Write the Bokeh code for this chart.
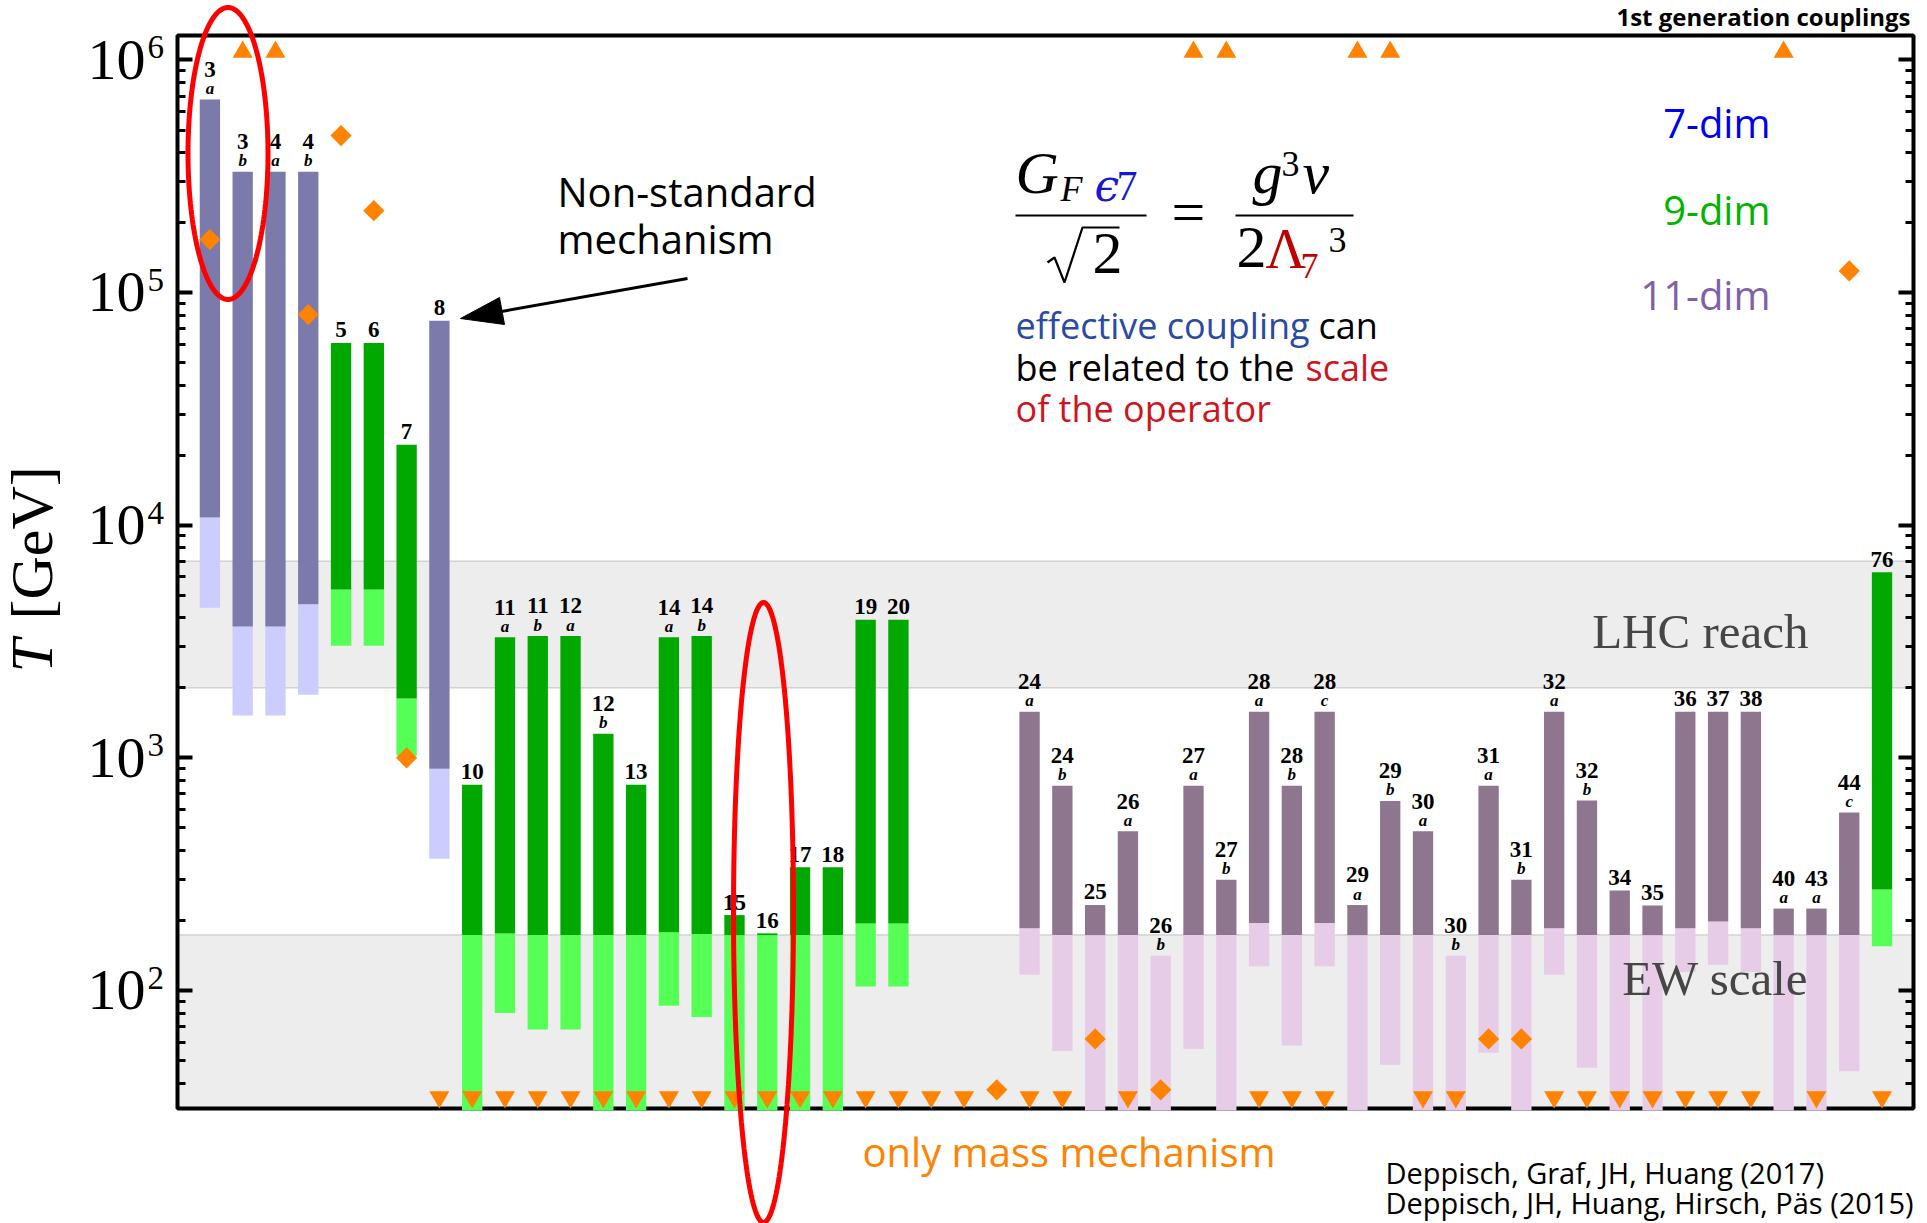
import math
from bokeh.plotting import figure
from bokeh.models import (Range1d, LogAxis, FixedTicker, CustomJSTickFormatter, BoxAnnotation,
                          Label, PolyAnnotation, Arrow, ColumnDataSource)
from bokeh.core.properties import value
from bokeh.embed import file_html
from bokeh.resources import INLINE

# ---------------- data ----------------
slot = list(range(0, 22)) + list(range(25, 52))
op_num = ["3", "3", "4", "4", "5", "6", "7", "8", "10", "11", "11", "12", "12", "13",
          "14", "14", "15", "16", "17", "18", "19", "20",
          "24", "24", "25", "26", "26", "27", "27", "28", "28", "28", "29", "29",
          "30", "30", "31", "31", "32", "32", "34", "35", "36", "37", "38", "40",
          "43", "44", "76"]
op_sub = ["a", "b", "a", "b", "", "", "", "", "", "a", "b", "a", "b", "",
          "a", "b", "", "", "", "", "", "",
          "a", "b", "", "a", "b", "a", "b", "a", "b", "c", "a", "b",
          "a", "b", "a", "b", "a", "b", "", "", "", "", "", "a",
          "a", "c", ""]
op_dim = [7, 7, 7, 7, 9, 9, 9, 7, 9, 9, 9, 9, 9, 9, 9, 9, 9, 9, 9, 9, 9, 9] + [11] * 26 + [9]

# upper end of bar, dark/light transition, lower end of light part (GeV)
t_top = [6.76e5, 3.31e5, 3.31e5, 3.31e5, 6.08e4, 6.08e4, 2.22e4, 7.57e4, 766, 3.30e3, 3.34e3,
         3.34e3, 1.27e3, 766, 3.30e3, 3.34e3, 211, 176, 339, 339, 3.92e3, 3.92e3,
         1.58e3, 758, 233, 484, 141, 758, 299, 1.58e3, 758, 1.58e3, 233, 653, 484, 141,
         758, 299, 1.58e3, 655, 269, 232, 1.58e3, 1.58e3, 1.58e3, 225, 225, 582, 6.28e3]
t_mid = [1.08e4, 3.67e3, 3.67e3, 4.57e3, 5.3e3, 5.3e3, 1.80e3, 897, 173, 176, 173,
         173, 173, 173, 178, 175, 173, 173, 173, 173, 194, 194,
         185, 173, 173, 173, 141, 173, 173, 195, 173, 195, 173, 173, 173, 141,
         173, 173, 185, 173, 173, 173, 185, 198, 185, 173, 173, 173, 272]
t_low = [4.42e3, 1.52e3, 1.52e3, 1.87e3, 3.03e3, 3.03e3, 1.02e3, 368, 20, 80, 68,
         68, 20, 20, 86, 77, 20, 20, 20, 20, 104, 104,
         117, 55, 20, 20, 20, 56, 20, 127, 58, 127, 20, 48, 20, 20,
         54, 20, 117, 46.5, 20, 20, 120, 129, 120, 20, 20, 45, 155]

diamond_slot = [0, 3, 4, 5, 6, 24, 27, 29, 39, 40, 50]
diamond_T = [1.69e5, 8.05e4, 4.73e5, 2.25e5, 1.0e3, 37.4, 61.9, 37.4, 61.9, 61.9, 1.24e5]
above_slot = [1, 2, 30, 31, 35, 36, 48]
below_slot = list(range(7, 24)) + [25, 26, 28, 32, 33, 34, 37, 38, 41, 42, 43, 44, 45, 46, 47, 49, 51]

EW_SCALE = 173
LHC_LOW, LHC_HIGH = 2000, 7000
y_ticks = [1e2, 1e3, 1e4, 1e5, 1e6]
y_tick_base = ["10", "10", "10", "10", "10"]
y_tick_exp = ["2", "3", "4", "5", "6"]
y_minor = [k * 10 ** n for n in range(1, 6) for k in range(2, 10) if k * 10 ** n > 32]
dim_names = ["7-dim", "9-dim", "11-dim"]

# ---------------- styles / layout ----------------
DARK = {7: "#7b7aaa", 9: "#00a800", 11: "#8e768e"}
LIGHT = {7: "#ccccff", 9: "#55ff55", 11: "#e6cce6"}
ORANGE = "#ff8200"
MARK_HIGH, MARK_LOW = 1.082e6, 34.85   # where off-scale markers sit

W, H = 1927, 1223
FL, FR, FT, FB = 177, 1913, 35, 1108          # the plot box, in page pixels
X0, X1 = -0.988, 51.96                         # x values at the box edges
Y0, Y1 = 31.10, 1.2742e6                       # T values at the box edges
LY0, LY1 = math.log10(Y0), math.log10(Y1)
K = 0.35                                       # baseline correction (fraction of font size)


def dx(cx):
    return X0 + (cx - FL) * (X1 - X0) / (FR - FL)


def dy(cy):
    return 10 ** (LY1 - (cy - FT) * (LY1 - LY0) / (FB - FT))


def cy_of(v):
    return FT + (LY1 - math.log10(v)) * (FB - FT) / (LY1 - LY0)


def at(xf, yf):
    return dx(xf), dy(yf)


p = figure(width=W, height=H, output_backend="svg", toolbar_location=None, title=None,
           x_range=Range1d(dx(0), dx(W)), y_range=Range1d(dy(H), dy(0)), y_axis_type="log",
           min_border=0)
p.xaxis.visible = False
p.grid.visible = False
p.outline_line_color = None
p.background_fill_color = "white"
p.border_fill_color = "white"

p.add_layout(LogAxis(), "right")
blank = CustomJSTickFormatter(code="return ''")
for ax, loc in zip(p.yaxis, (X0, X1)):
    ax.fixed_location = loc
    ax.ticker = FixedTicker(ticks=y_ticks, minor_ticks=y_minor)
    ax.formatter = blank
    ax.axis_line_color = None
    ax.major_tick_in = 15
    ax.major_tick_out = 0
    ax.major_tick_line_width = 4
    ax.minor_tick_in = 8
    ax.minor_tick_out = 0
    ax.minor_tick_line_width = 3
    ax.major_label_standoff = 0
    ax.major_label_text_font_size = "1px"

# bands
p.add_layout(BoxAnnotation(left=X0, right=X1, bottom=Y0, top=EW_SCALE, fill_color="#ededed",
                           fill_alpha=1, line_color="#d2d2d2", line_alpha=1, line_width=1.5,
                           level="underlay"))
p.add_layout(BoxAnnotation(left=X0, right=X1, bottom=LHC_LOW, top=LHC_HIGH, fill_color="#ededed",
                           fill_alpha=1, line_color="#d2d2d2", line_alpha=1, line_width=1.5,
                           level="underlay"))
# plot box
p.add_layout(BoxAnnotation(left=X0, right=X1, bottom=Y0, top=Y1, fill_alpha=0,
                           line_color="black", line_alpha=1, line_width=4, level="underlay"))

# bars (light part clipped at the floor of the box)
floor = dy(FB + 2)
src = ColumnDataSource(dict(x=slot, top=t_top, mid=t_mid,
                            low=[max(v, floor) for v in t_low],
                            dark=[DARK[d] for d in op_dim],
                            light=[LIGHT[d] for d in op_dim]))
p.vbar(x="x", width=0.62, bottom="low", top="mid", fill_color="light",
       line_color=None, source=src)
p.vbar(x="x", width=0.62, bottom="mid", top="top", fill_color="dark",
       line_color=None, source=src)

# markers
p.scatter(diamond_slot, diamond_T, marker="square", angle=math.pi / 4, size=15,
          fill_color=ORANGE, line_color=None)
p.scatter(above_slot, [MARK_HIGH] * len(above_slot), marker="triangle", size=20,
          fill_color=ORANGE, line_color=None)
p.scatter(below_slot, [MARK_LOW] * len(below_slot), marker="inverted_triangle", size=20,
          fill_color=ORANGE, line_color=None)

# bar labels
NUM_SIZE, SUB_SIZE = 23, 17
num_y, sub_x, sub_y, sub_t = [], [], [], []
for s, n, sb, top in zip(slot, op_num, op_sub, t_top):
    c = cy_of(top)
    num_y.append(dy(c - (22 if sb else 5) - K * NUM_SIZE))
    if sb:
        sub_x.append(s)
        sub_y.append(dy(c - 5 - K * SUB_SIZE))
        sub_t.append(sb)
p.text(slot, num_y, text=op_num, text_font=value("Liberation Serif"), text_font_style="bold",
       text_font_size=f"{NUM_SIZE}px", text_align="center", text_baseline="alphabetic",
       text_color="black")
p.text(sub_x, sub_y, text=sub_t, text_font=value("Liberation Serif"),
       text_font_style="bold italic", text_font_size=f"{SUB_SIZE}px", text_align="center",
       text_baseline="alphabetic", text_color="black")


def label(text, xf, yf, size, color="black", font="Open Sans", style="normal",
          align="left", angle=0.0):
    if angle:
        x, y = at(xf - 0.5 * size, yf)
    else:
        x, y = at(xf, yf - K * size)
    p.add_layout(Label(x=x, y=y, text=text, text_font=font, text_font_size=f"{size}px",
                       text_color=color, text_font_style=style, text_align=align,
                       text_baseline="alphabetic", angle=angle))


# tick labels
for v, b, e in zip(y_ticks, y_tick_base, y_tick_exp):
    c = cy_of(v)
    label(b, 145, c + 20, 58, font="Liberation Serif", align="right")
    label(e, 147, c - 1, 33, font="Liberation Serif")

# y axis label
label("T", 61, 672, 60, font="Liberation Serif", style="italic", angle=math.pi / 2)
label("[GeV]", 61, 619, 60, font="Liberation Serif", angle=math.pi / 2)

# band labels
label("LHC reach", 1808, 648, 49, color="#464646", font="Liberation Serif", align="right")
label("EW scale", 1808, 995, 49, color="#464646", font="Liberation Serif", align="right")

# dimension legend
label(dim_names[0], 1770, 136, 40, color="#0000f0", align="right")
label(dim_names[1], 1770, 223, 40, color="#00b400", align="right")
label(dim_names[2], 1770, 308, 40, color="#8060a8", align="right")

# non-standard mechanism annotation
label("Non-standard", 557, 205, 40)
label("mechanism", 557, 252, 40)
ax0, ay0 = at(687, 278)
ax1, ay1 = at(501, 311)
p.add_layout(Arrow(end=None, x_start=ax0, y_start=ay0, x_end=ax1, y_end=ay1,
                   line_color="black", line_width=3))
hx, hy = zip(*[at(460, 318), at(504, 324), at(499, 297)])
p.add_layout(PolyAnnotation(xs=list(hx), ys=list(hy), fill_color="black", fill_alpha=1,
                            line_color="black", line_alpha=1, line_width=1))

# formula
SERIF = "Liberation Serif"
BLUE_F, RED_F = "#1818d0", "#c00000"
label("G", 1015, 193, 60, font=SERIF, style="italic")
label("F", 1060, 201, 36, font=SERIF, style="italic")
label("ϵ", 1094, 200, 44, color=BLUE_F, font="DejaVu Serif", style="italic")
label("7", 1116, 200, 42, color=BLUE_F, font=SERIF)
label("2", 1092, 274, 60, font=SERIF)
label("=", 1171, 232, 60, font=SERIF)
label("g", 1252, 193, 60, font=SERIF, style="italic")
label("3", 1281, 176, 36, font=SERIF)
label("v", 1302, 193, 60, font=SERIF, style="italic")
label("2", 1236, 268, 60, font=SERIF)
label("Λ", 1265, 268, 56, color=RED_F, font=SERIF)
label("7", 1300, 278, 36, color=RED_F, font=SERIF)
label("3", 1328, 252, 36, font=SERIF)
for pts in ([(1015, 215), (1146, 215)], [(1235, 215), (1353, 215)],
            [(1047, 262), (1054, 257), (1064, 282), (1082, 227), (1119, 227)]):
    lx, ly = zip(*[at(a, b) for a, b in pts])
    p.line(list(lx), list(ly), line_color="black", line_width=2.2)

# explanation
BLUE_T, RED_T = "#2a4aa5", "#d0141e"
label("effective coupling", 1015, 338, 36, color=BLUE_T)
label("can", 1318, 338, 36)
label("be related to the", 1015, 380, 36)
label("scale", 1305, 380, 36, color=RED_T)
label("of the operator", 1015, 421, 36, color=RED_T)

# bottom / top texts
label("only mass mechanism", 862, 1165, 40, color=ORANGE)
label("Deppisch, Graf, JH, Huang (2017)", 1385, 1182, 29)
label("Deppisch, JH, Huang, Hirsch, Päs (2015)", 1385, 1212, 29)
label("1st generation couplings", 1910, 24, 24, style="bold", align="right")


# red highlight ellipses
def ellipse(cxf, cyf, rx, ry, n=160):
    pts = [at(cxf + rx * math.cos(2 * math.pi * i / n), cyf + ry * math.sin(2 * math.pi * i / n))
           for i in range(n)]
    xs, ys = zip(*pts)
    p.add_layout(PolyAnnotation(xs=list(xs), ys=list(ys), fill_alpha=0, line_color="#ff0000",
                                line_alpha=1, line_width=5, level="overlay"))


ellipse(227.5, 153, 40, 146)
ellipse(763, 912, 30, 310)

open("out.html", "w").write(file_html(p, INLINE))
